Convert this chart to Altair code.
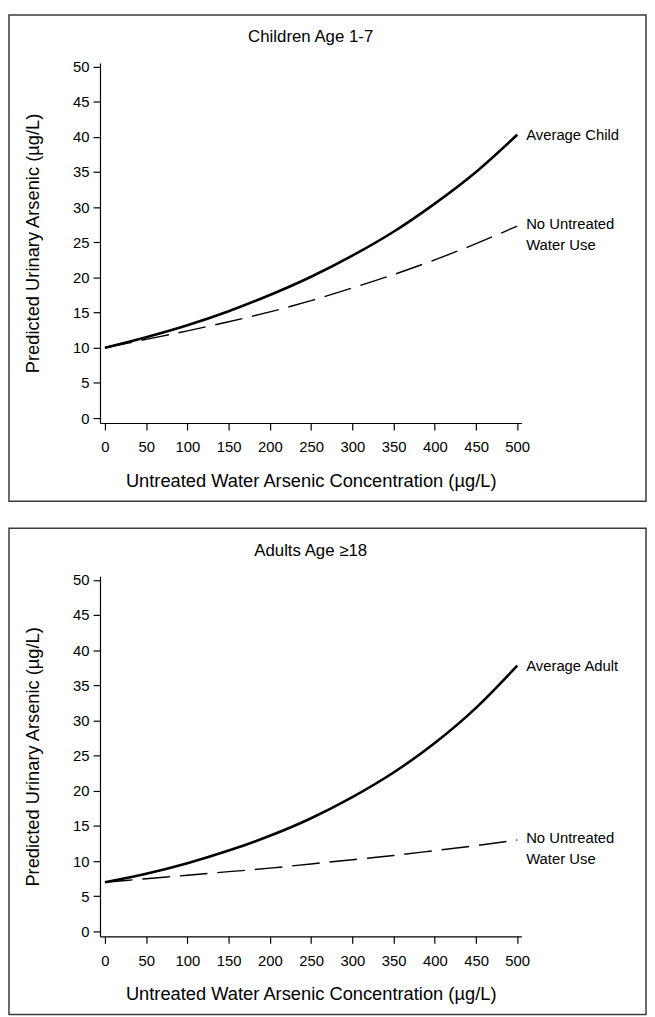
import altair as alt
import pandas as pd

# ---- data ----
x_vals = [0, 50, 100, 150, 200, 250, 300, 350, 400, 450, 500]
child_avg = [10.0, 11.5, 13.2, 15.2, 17.5, 20.1, 23.1, 26.5, 30.5, 35.0, 40.3]
child_none = [10.0, 11.2, 12.4, 13.7, 15.1, 16.7, 18.5, 20.4, 22.5, 24.8, 27.3]
adult_avg = [7.0, 8.2, 9.7, 11.5, 13.6, 16.1, 19.1, 22.6, 26.8, 31.8, 37.8]
adult_none = [7.0, 7.5, 8.0, 8.5, 9.0, 9.6, 10.2, 10.8, 11.5, 12.2, 13.0]
x_ticks = [0, 50, 100, 150, 200, 250, 300, 350, 400, 450, 500]
y_ticks = [0, 5, 10, 15, 20, 25, 30, 35, 40, 45, 50]

FONT = "Liberation Sans"
W, H = 426, 364
X_TITLE = "Untreated Water Arsenic Concentration (µg/L)"
Y_TITLE = "Predicted Urinary Arsenic (µg/L)"


def panel(title, avg, none, avg_label):
    df_avg = pd.DataFrame({"x": x_vals, "y": avg})
    df_none = pd.DataFrame({"x": x_vals, "y": none})

    xenc = alt.X(
        "x:Q",
        scale=alt.Scale(domain=[-6, 505], nice=False, zero=False),
        axis=alt.Axis(
            values=x_ticks, title=X_TITLE, grid=False, labelOverlap=False,
            labelFontSize=15, labelPadding=10, titlePadding=17,
        ),
    )
    yenc = alt.Y(
        "y:Q",
        scale=alt.Scale(domain=[-0.7, 50.5], nice=False, zero=False),
        axis=alt.Axis(
            values=y_ticks, title=Y_TITLE, grid=False, labelOverlap=False,
            labelFontSize=15, labelPadding=4, titlePadding=30,
        ),
    )

    frame = alt.Chart(pd.DataFrame({"a": [0]})).mark_rect(
        fillOpacity=0, stroke="#3a3a3a", strokeWidth=1.5
    ).encode(
        x=alt.value(-92), x2=alt.value(552), y=alt.value(-48.5), y2=alt.value(443)
    )

    head = alt.Chart(pd.DataFrame({"t": [title]})).mark_text(
        font=FONT, fontSize=17, color="black", align="center", baseline="middle"
    ).encode(text="t:N", x=alt.value(213), y=alt.value(-26))

    solid = alt.Chart(df_avg).mark_line(
        color="black", strokeWidth=2.6, interpolate="monotone"
    ).encode(x=xenc, y=yenc)

    dashed = alt.Chart(df_none).mark_line(
        color="black", strokeWidth=1.4, strokeDash=[28, 10], interpolate="monotone"
    ).encode(x=xenc, y=yenc)

    lab_avg = alt.Chart(
        pd.DataFrame({"x": [x_vals[-1]], "y": [avg[-1]], "t": [avg_label]})
    ).mark_text(
        font=FONT, fontSize=15, color="black", align="left", baseline="middle", dx=9
    ).encode(x=xenc, y=yenc, text="t:N")

    lab_none = alt.Chart(
        pd.DataFrame({"x": [x_vals[-1]], "y": [none[-1]], "t": ["No Untreated\nWater Use"]})
    ).mark_text(
        font=FONT, fontSize=15, color="black", align="left", baseline="top",
        dx=9, dy=-9, lineBreak="\n", lineHeight=21
    ).encode(x=xenc, y=yenc, text="t:N")

    return alt.layer(frame, head, solid, dashed, lab_avg, lab_none).properties(
        width=W, height=H
    )


top = panel("Children Age 1-7", child_avg, child_none, "Average Child")
bottom = panel("Adults Age \u226518", adult_avg, adult_none, "Average Adult")

chart = alt.vconcat(top, bottom, spacing=25).properties(
    padding={"left": 0, "top": 0, "right": 0, "bottom": 0}
).configure(
    background="white"
).configure_view(
    stroke=None
).configure_axis(
    grid=False,
    domainColor="black",
    domainWidth=1.2,
    tickColor="black",
    tickWidth=1.2,
    tickSize=7,
    labelFont=FONT,
    labelFontSize=15,
    labelColor="black",
    titleFont=FONT,
    titleFontSize=18.5,
    titleFontWeight="normal",
    titleColor="black",
)

chart.save("out.html", embed_options={"renderer": "svg", "actions": False})
